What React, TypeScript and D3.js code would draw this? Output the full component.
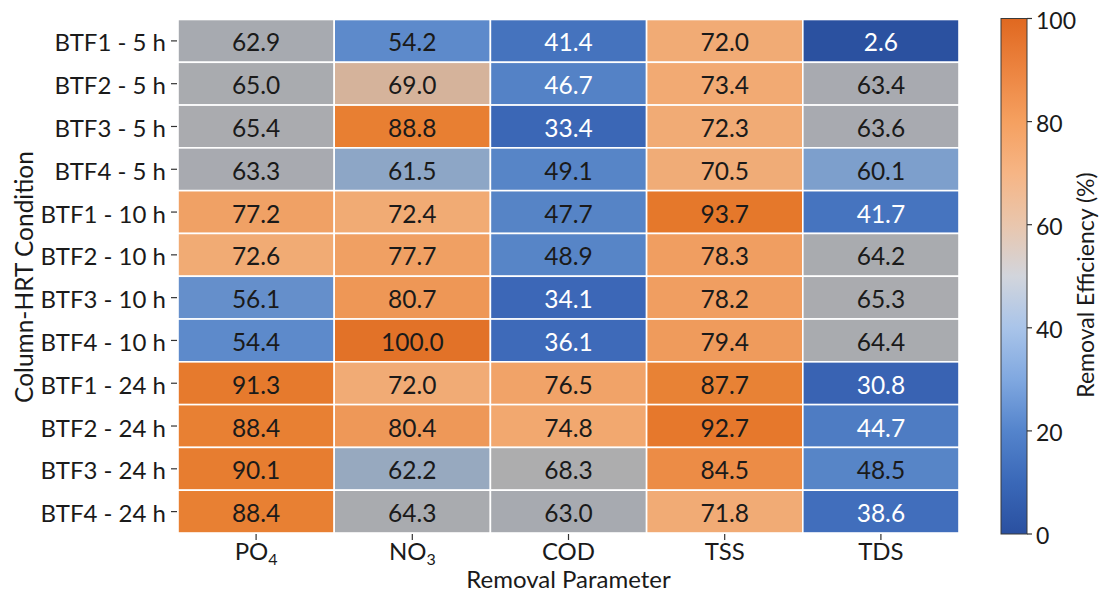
import React from "react";
import * as d3 from "d3";

// Row conditions (column - hydraulic retention time)
const conditions = [
  "BTF1 - 5 h", "BTF2 - 5 h", "BTF3 - 5 h", "BTF4 - 5 h",
  "BTF1 - 10 h", "BTF2 - 10 h", "BTF3 - 10 h", "BTF4 - 10 h",
  "BTF1 - 24 h", "BTF2 - 24 h", "BTF3 - 24 h", "BTF4 - 24 h",
];

// Removal parameters: key, base label, subscript
const parameters = ["PO4", "NO3", "COD", "TSS", "TDS"];
const parameterBase = ["PO", "NO", "COD", "TSS", "TDS"];
const parameterSub = ["4", "3", "", "", ""];

// Removal efficiency (%) per parameter, one value per condition
const PO4 = [62.9, 65.0, 65.4, 63.3, 77.2, 72.6, 56.1, 54.4, 91.3, 88.4, 90.1, 88.4];
const NO3 = [54.2, 69.0, 88.8, 61.5, 72.4, 77.7, 80.7, 100.0, 72.0, 80.4, 62.2, 64.3];
const COD = [41.4, 46.7, 33.4, 49.1, 47.7, 48.9, 34.1, 36.1, 76.5, 74.8, 68.3, 63.0];
const TSS = [72.0, 73.4, 72.3, 70.5, 93.7, 78.3, 78.2, 79.4, 87.7, 92.7, 84.5, 71.8];
const TDS = [2.6, 63.4, 63.6, 60.1, 41.7, 64.2, 65.3, 64.4, 30.8, 44.7, 48.5, 38.6];
const seriesByParameter = [PO4, NO3, COD, TSS, TDS];

// Colour bar ticks
const colorbarTicks = [0, 20, 40, 60, 80, 100];

// Cell colour ramp (value -> colour)
const cellStops = [0, 30, 36, 42, 47, 55, 60, 62, 62.8, 68.3, 69, 70, 74, 78, 84, 88, 92, 100];
const cellColors = [
  "#2a4f9e", "#3862b2", "#3e6ab9", "#4674bf", "#5583c6", "#5e8bcb", "#7c9ecc", "#92a8c4",
  "#a7aab0", "#adadae", "#d5b39b", "#f0ac78", "#f2aa72", "#f09f62", "#ec8d48", "#e88134",
  "#e6792c", "#e27228",
];

// Label colour: light on the deep blues, dark elsewhere
const labelBreaks = [47.2];
const labelColors = ["#ffffff", "#1a1a1a"];

// Colour bar ramp
const barStops = [0, 10, 20, 30, 40, 50, 60, 70, 80, 90, 100];
const barColors = [
  "#2a50a0", "#3a68b8", "#5484cc", "#80a8e0", "#a9c4e9", "#d2d5dc",
  "#e9c6ad", "#f6b585", "#f5a060", "#ec8440", "#e06820",
];

const FONT = "Lato, 'Open Sans', sans-serif";
const TEXT = "#1a1a1a";

export default function App() {
  const width = 1101;
  const height = 592;

  const x = d3.scaleBand<string>().domain(parameters).range([178, 959]);
  const y = d3.scaleBand<string>().domain(conditions).range([19.5, 533]);
  const color = d3
    .scaleLinear<string>()
    .domain(cellStops)
    .range(cellColors)
    .interpolate(d3.interpolateRgb)
    .clamp(true);
  const labelColor = d3.scaleThreshold<number, string>().domain(labelBreaks).range(labelColors);

  const cbX0 = 1001;
  const cbX1 = 1027;
  const cbY = d3.scaleLinear().domain([0, 100]).range([534, 18.5]);

  const cells: React.ReactNode[] = [];
  parameters.forEach((p, j) => {
    seriesByParameter[j].forEach((v, i) => {
      const cx = (x(p) as number) + x.bandwidth() / 2;
      const cy = (y(conditions[i]) as number) + y.bandwidth() / 2;
      cells.push(
        <g key={`${p}-${i}`}>
          <rect
            x={x(p)}
            y={y(conditions[i])}
            width={x.bandwidth()}
            height={y.bandwidth()}
            fill={color(v)}
            stroke="#ffffff"
            strokeWidth={1.6}
          />
          <text
            x={cx}
            y={cy + 1}
            textAnchor="middle"
            dominantBaseline="central"
            fontSize={24.5}
            fill={labelColor(v)}
          >
            {v.toFixed(1)}
          </text>
        </g>
      );
    });
  });

  return (
    <svg
      width={width}
      height={height}
      style={{ position: "absolute", left: 0, top: 0, background: "#ffffff" }}
      fontFamily={FONT}
    >
      <defs>
        <linearGradient id="cbar" x1="0" y1="1" x2="0" y2="0">
          {barStops.map((s, k) => (
            <stop key={s} offset={`${s}%`} stopColor={barColors[k]} />
          ))}
        </linearGradient>
      </defs>

      {cells}

      {/* Y axis ticks and labels */}
      {conditions.map((c) => {
        const cy = (y(c) as number) + y.bandwidth() / 2;
        return (
          <g key={c}>
            <line x1={171} x2={177} y1={cy} y2={cy} stroke="#333" strokeWidth={1.2} />
            <text x={166} y={cy + 1} textAnchor="end" dominantBaseline="central" fontSize={24} fill={TEXT}>
              {c}
            </text>
          </g>
        );
      })}

      {/* X axis ticks and labels */}
      {parameters.map((p, j) => {
        const cx = (x(p) as number) + x.bandwidth() / 2;
        return (
          <g key={p}>
            <line x1={cx} x2={cx} y1={534} y2={540} stroke="#333" strokeWidth={1.2} />
            <text x={cx} y={560} textAnchor="middle" fontSize={24} fill={TEXT}>
              {parameterBase[j]}
              {parameterSub[j] && (
                <tspan fontSize={16} dy={5}>
                  {parameterSub[j]}
                </tspan>
              )}
            </text>
          </g>
        );
      })}

      {/* Axis titles */}
      <text x={568.5} y={588} textAnchor="middle" fontSize={24} fill={TEXT}>
        Removal Parameter
      </text>
      <text
        transform={`translate(23, 277) rotate(-90)`}
        textAnchor="middle"
        dominantBaseline="central"
        fontSize={24.5}
        fill={TEXT}
      >
        Column-HRT Condition
      </text>

      {/* Colour bar */}
      <rect
        x={cbX0}
        y={cbY(100)}
        width={cbX1 - cbX0}
        height={cbY(0) - cbY(100)}
        fill="url(#cbar)"
        stroke="#3a3a3a"
        strokeWidth={1}
      />
      {colorbarTicks.map((t) => (
        <g key={t}>
          <line x1={cbX1} x2={cbX1 + 5} y1={cbY(t)} y2={cbY(t)} stroke="#333" strokeWidth={1.2} />
          <text x={cbX1 + 9} y={cbY(t) + 1} dominantBaseline="central" fontSize={23} fill={TEXT}>
            {t}
          </text>
        </g>
      ))}
      <text
        transform={`translate(1085, 285) rotate(-90)`}
        textAnchor="middle"
        dominantBaseline="central"
        fontSize={23}
        fill={TEXT}
      >
        Removal Efficiency (%)
      </text>
    </svg>
  );
}
